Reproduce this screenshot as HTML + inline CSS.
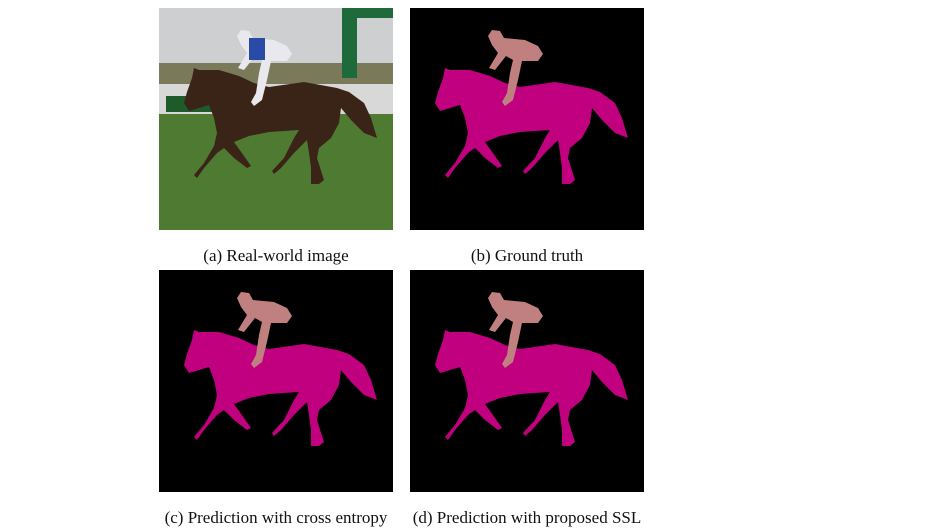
<!DOCTYPE html>
<html><head><meta charset="utf-8"><style>
html,body{margin:0;padding:0;background:#fff;width:929px;height:528px;overflow:hidden}
svg{position:absolute;left:0;top:0}
text{font-family:"Liberation Serif",serif;font-size:17px;fill:#111}
</style></head><body>
<svg width="929" height="528" viewBox="0 0 929 528">
<defs>
<path id="horse" d="M25 95 L28 84 L33 70 L35 60 L40 62 L45 62 L60 62 L80 68 L95 75 L110 79 L145 74 L178 80 L190 84 L205 95 L212 110 L218 130 L205 125 L192 112 L182 100 L180 115 L172 130 L160 140 L158 150 L165 172 L160 176 L152 176 L152 160 L150 145 L148 132 L135 145 L122 160 L115 166 L113 163 L125 150 L135 130 L140 122 L110 124 L90 128 L75 134 L85 148 L92 158 L88 160 L75 150 L65 140 L58 145 L45 160 L38 170 L35 167 L45 155 L55 138 L58 125 L55 110 L50 97 L40 100 L30 103 Z"/>
<path id="rider" d="M78 28 L82 22 L90 23 L94 30 L115 32 L128 38 L133 46 L128 53 L112 53 L108 72 L103 92 L95 98 L92 94 L97 85 L100 65 L103 52 L96 48 L85 62 L79 60 L88 45 L82 37 Z"/>
</defs>

<g transform="translate(159,8)">
<rect width="234" height="222" fill="#4f7a32"/>
<rect width="234" height="60" fill="#cdcfd0"/>
<rect y="55" width="234" height="22" fill="#7a7a5a"/>
<rect y="76" width="234" height="30" fill="#d8d8d8"/>
<rect x="7" y="88" width="55" height="16" fill="#1e5a2a"/>
<rect x="183" y="0" width="51" height="10" fill="#1f6a3a"/>
<rect x="183" y="5" width="15" height="65" fill="#1f6a3a"/>
<use href="#horse" fill="#3a2418"/>
<use href="#rider" fill="#e8e8ee"/>
<rect x="90" y="30" width="16" height="22" fill="#2a4aa8"/>
</g>

<g transform="translate(410,8)">
<rect width="234" height="222" fill="#000"/>
<use href="#horse" fill="#c0007f"/>
<use href="#rider" fill="#c08080"/>
</g>

<g transform="translate(159,270)">
<rect width="234" height="222" fill="#000"/>
<use href="#horse" fill="#c0007f"/>
<use href="#rider" fill="#c08080"/>
</g>

<g transform="translate(410,270)">
<rect width="234" height="222" fill="#000"/>
<use href="#horse" fill="#c0007f"/>
<use href="#rider" fill="#c08080"/>
</g>

<text x="276" y="261" text-anchor="middle">(a) Real-world image</text>
<text x="527" y="261" text-anchor="middle">(b) Ground truth</text>
<text x="276" y="523" text-anchor="middle">(c) Prediction with cross entropy</text>
<text x="527" y="523" text-anchor="middle">(d) Prediction with proposed SSL</text>
</svg>
</body></html>
